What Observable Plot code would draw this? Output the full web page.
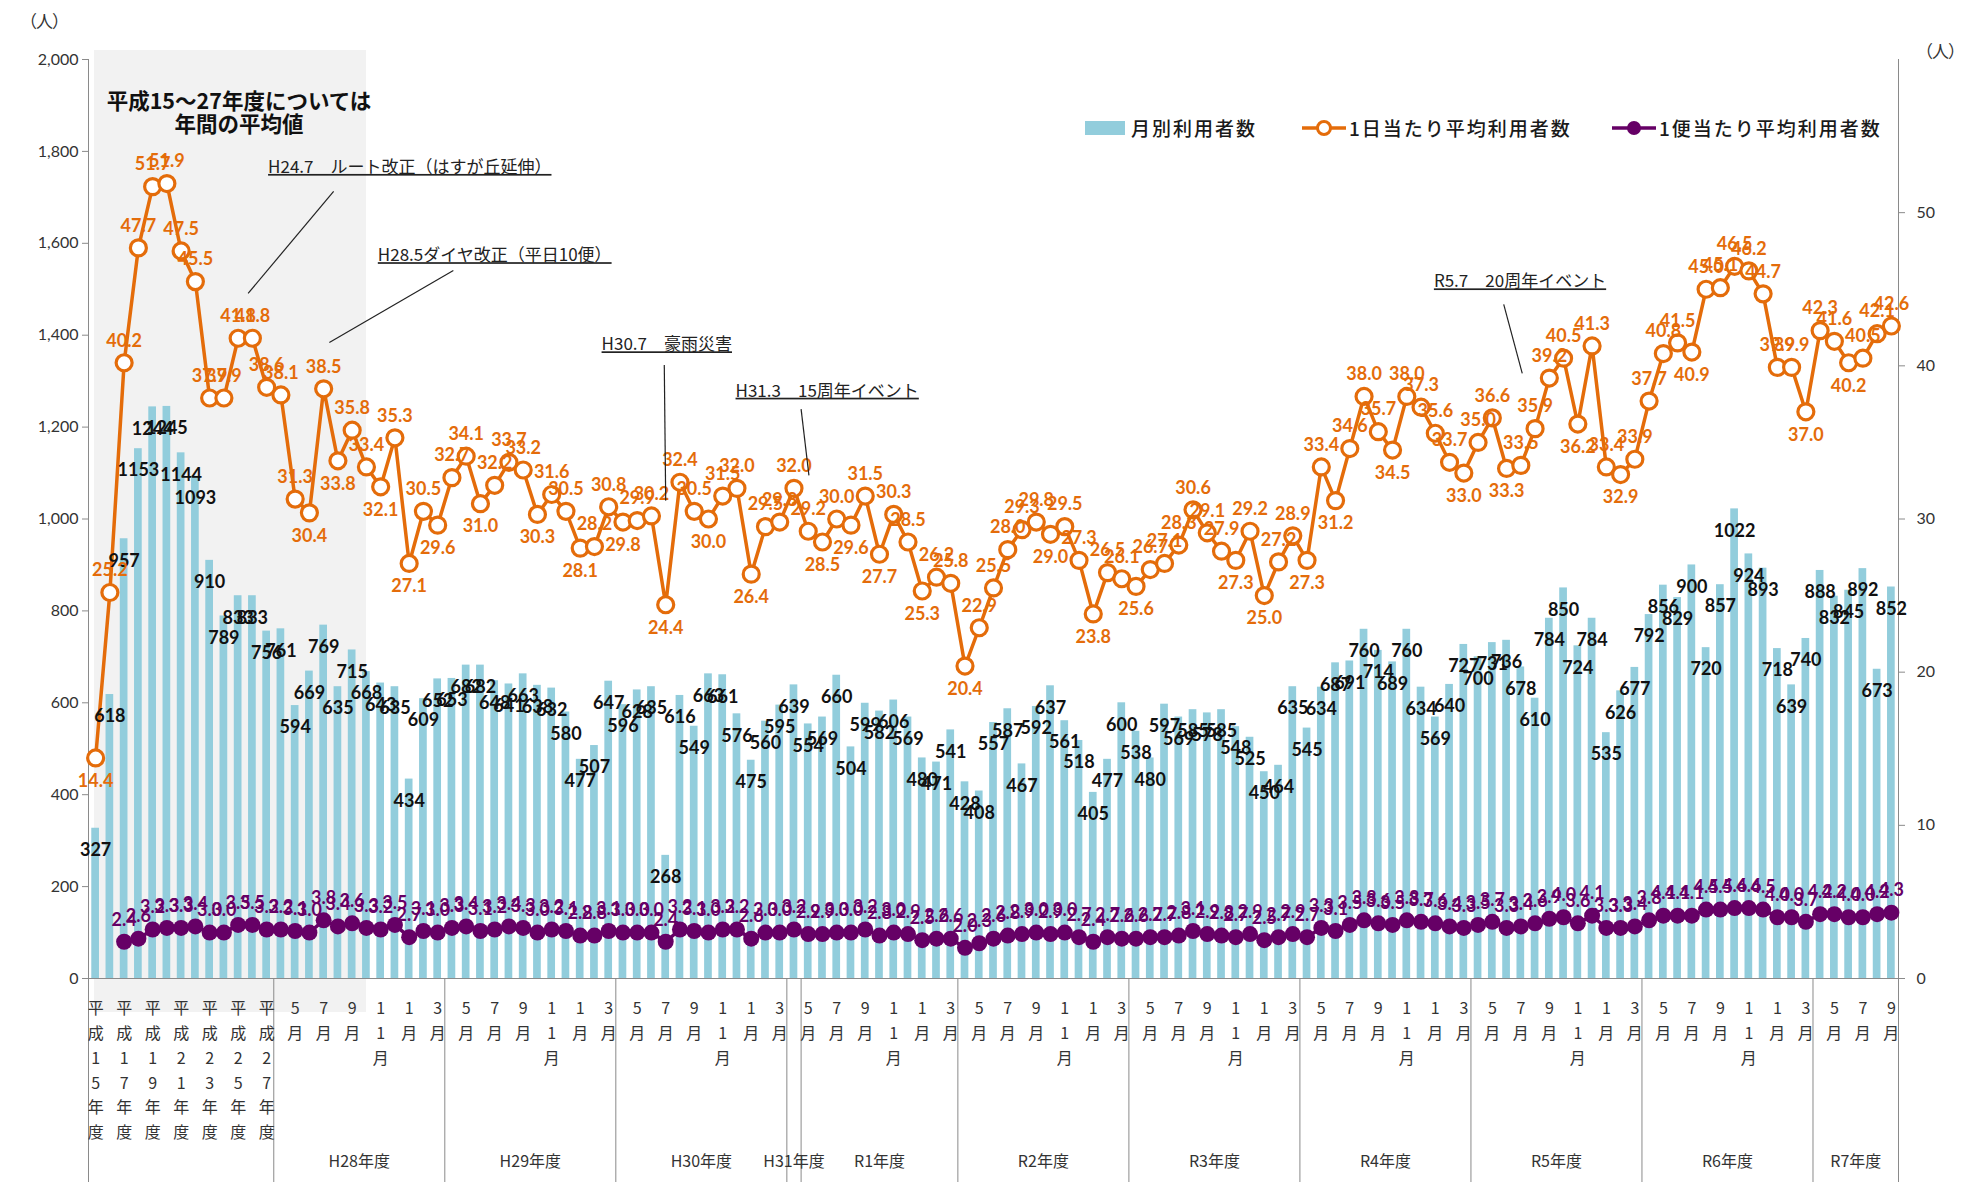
<!DOCTYPE html>
<html><head><meta charset="utf-8">
<script src="https://cdn.jsdelivr.net/npm/d3@7"></script>
<script src="https://cdn.jsdelivr.net/npm/@observablehq/plot@0.6"></script>
<style>
body{margin:0;background:#fff;}
#wrap{position:relative;width:1971px;height:1182px;overflow:hidden;font-family:"Noto Sans CJK JP",sans-serif;color:#222;}
#shade{position:absolute;left:94px;top:50px;width:272px;height:962px;background:#f2f2f2;}
#shadeText{position:absolute;left:94px;top:88px;width:290px;text-align:center;font-weight:700;font-size:21.5px;line-height:23px;color:#111;}
#chart{position:absolute;left:0;top:0;}
.abs{position:absolute;white-space:nowrap;}
.unit{font-size:17px;color:#333;letter-spacing:-1px;}
.lgt{font-size:19px;line-height:24px;color:#1a1a1a;letter-spacing:2px;font-weight:500;}
</style></head>
<body>
<div id="wrap">
  <div id="shade"></div>
  <div id="chart"></div>
  <div id="shadeText">平成15～27年度については<br>年間の平均値</div>
  <div class="abs unit" style="left:20px;top:8px;">（人）</div>
  <div class="abs unit" style="left:1916px;top:38px;">（人）</div>
  <div class="abs" style="left:1085px;top:121px;width:40px;height:14px;background:#92cddc;"></div>
  <div class="abs lgt" style="left:1131px;top:116px;">月別利用者数</div>
  <svg class="abs" style="left:1302px;top:118px;" width="44" height="20"><line x1="0" y1="10" x2="44" y2="10" stroke="#e46c0a" stroke-width="3.5"/><circle cx="22" cy="10" r="6.5" fill="#fff" stroke="#e46c0a" stroke-width="3"/></svg>
  <div class="abs lgt" style="left:1349px;top:116px;">1日当たり平均利用者数</div>
  <svg class="abs" style="left:1612px;top:118px;" width="44" height="20"><line x1="0" y1="10" x2="44" y2="10" stroke="#660066" stroke-width="3.5"/><circle cx="22" cy="10" r="7" fill="#660066"/></svg>
  <div class="abs lgt" style="left:1659px;top:116px;">1便当たり平均利用者数</div>
</div>
<script>
// ---- categories ----
const annualYears = ["平成15年度","平成16年度","平成17年度","平成18年度","平成19年度","平成20年度","平成21年度","平成22年度","平成23年度","平成24年度","平成25年度","平成26年度","平成27年度"];
const fiscalYears = ["H28年度","H29年度","H30年度","H31年度","R1年度","R2年度","R3年度","R4年度","R5年度","R6年度","R7年度"];
const monthsInYear = [12,12,12,1,11,12,12,12,12,12,6];
const monthNames = ["4月","5月","6月","7月","8月","9月","10月","11月","12月","1月","2月","3月"];

// ---- 月別利用者数 (annual averages, then monthly from H28.4) ----
const usersAnnual = [327,618,957,1153,1244,1245,1144,1093,910,789,833,833,756];
const usersMonthly = [
  761,594,669,769,635,715,668,643,635,434,609,652,
  653,682,682,648,641,663,638,632,580,477,507,647,
  596,628,635,268,616,549,663,661,576,475,560,595,
  639,554,569,660,504,599,582,606,569,480,471,541,
  428,408,557,587,467,592,637,561,518,405,477,600,
  538,480,597,569,585,578,585,548,525,450,464,635,
  545,634,687,691,760,714,689,760,634,569,640,727,
  700,731,736,678,610,784,850,724,784,535,626,677,
  792,856,829,900,720,857,1022,924,893,718,639,740,
  888,832,845,892,673,852
];

// ---- 1日当たり平均利用者数 ----
const dailyAnnual = [14.4,25.2,40.2,47.7,51.7,51.9,47.5,45.5,37.9,37.9,41.8,41.8,38.6];
const dailyMonthly = [
  38.1,31.3,30.4,38.5,33.8,35.8,33.4,32.1,35.3,27.1,30.5,29.6,
  32.7,34.1,31.0,32.2,33.7,33.2,30.3,31.6,30.5,28.1,28.2,30.8,
  29.8,29.9,30.2,24.4,32.4,30.5,30.0,31.5,32.0,26.4,29.5,29.8,
  32.0,29.2,28.5,30.0,29.6,31.5,27.7,30.3,28.5,25.3,26.2,25.8,
  20.4,22.9,25.5,28.0,29.3,29.8,29.0,29.5,27.3,23.8,26.5,26.1,
  25.6,26.7,27.1,28.3,30.6,29.1,27.9,27.3,29.2,25.0,27.2,28.9,
  27.3,33.4,31.2,34.6,38.0,35.7,34.5,38.0,37.3,35.6,33.7,33.0,
  35.0,36.6,33.3,33.5,35.9,39.2,40.5,36.2,41.3,33.4,32.9,33.9,
  37.7,40.8,41.5,40.9,45.0,45.1,46.5,46.2,44.7,39.9,39.9,37.0,
  42.3,41.6,40.2,40.5,42.1,42.6
];

// ---- 1便当たり平均利用者数 ----
const perTripAnnual = [null,null,2.4,2.6,3.2,3.3,3.3,3.4,3.0,3.0,3.5,3.5,3.2];
const perTripMonthly = [
  3.2,3.1,3.0,3.8,3.4,3.6,3.3,3.2,3.5,2.7,3.1,3.0,
  3.3,3.4,3.1,3.2,3.4,3.3,3.0,3.2,3.1,2.8,2.8,3.1,
  3.0,3.0,3.0,2.4,3.2,3.1,3.0,3.2,3.2,2.6,3.0,3.0,
  3.2,2.9,2.9,3.0,3.0,3.2,2.8,3.0,2.9,2.5,2.6,2.6,
  2.0,2.3,2.6,2.8,2.9,3.0,2.9,3.0,2.7,2.4,2.7,2.6,
  2.6,2.7,2.7,2.8,3.1,2.9,2.8,2.7,2.9,2.5,2.7,2.9,
  2.7,3.3,3.1,3.5,3.8,3.6,3.5,3.8,3.7,3.6,3.4,3.3,
  3.5,3.7,3.3,3.4,3.6,3.9,4.0,3.6,4.1,3.3,3.3,3.4,
  3.8,4.1,4.1,4.1,4.5,4.5,4.6,4.6,4.5,4.0,4.0,3.7,
  4.2,4.2,4.0,4.0,4.2,4.3
];

// ---- annotations (text, anchor category / value, leader line) ----
const notes = [
  {text: "H24.7　ルート改正（はすが丘延伸）", x: 12.1, y: 1765, lx1: 16.7, ly1: 1713, lx2: 10.7, ly2: 1491},
  {text: "H28.5ダイヤ改正（平日10便）", x: 19.8, y: 1573, lx1: 25.1, ly1: 1541, lx2: 16.4, ly2: 1384},
  {text: "H30.7　豪雨災害", x: 35.5, y: 1379, lx1: 39.9, ly1: 1335, lx2: 40.0, ly2: 1040},
  {text: "H31.3　15周年イベント", x: 44.9, y: 1278, lx1: 49.5, ly1: 1239, lx2: 50.05, ly2: 1095},
  {text: "R5.7　20周年イベント", x: 93.9, y: 1516, lx1: 98.8, ly1: 1467, lx2: 100.1, ly2: 1317}
];

// ---- build table ----
const rows = [];
annualYears.forEach((name, i) => rows.push({i, label: name, users: usersAnnual[i], daily: dailyAnnual[i], trip: perTripAnnual[i]}));
usersMonthly.forEach((u, m) => rows.push({i: annualYears.length + m, label: monthNames[m % 12], users: u, daily: dailyMonthly[m], trip: perTripMonthly[m]}));
const N = rows.length;
const K = 2000 / 60; // right axis (0–60) onto left axis (0–2000)

// local minima of daily series get their label below
rows.forEach((d, j) => {
  const p = j > 0 ? rows[j-1].daily : Infinity, n = j < N-1 ? rows[j+1].daily : Infinity;
  d.below = d.daily < p && d.daily < n;
});

const ticks = rows.filter(d => d.i % 2 === 0).map(d => ({i: d.i, t: [...d.label].join("\n")}));
const groups = [];
const bounds = [-0.5, annualYears.length - 0.5];
let s = annualYears.length;
fiscalYears.forEach((name, k) => {
  const n = monthsInYear[k];
  groups.push({name, c: s + n / 2 - 0.5});
  s += n;
  bounds.push(s - 0.5);
});

const FONT = "Lato, 'Noto Sans CJK JP', sans-serif";
const ORANGE = "#e46c0a", PURPLE = "#660066", BLUE = "#92cddc", AXIS = "#8a8a8a";

const chart = Plot.plot({
  width: 1971, height: 1182,
  marginLeft: 88, marginRight: 73, marginTop: 59, marginBottom: 204,
  style: {background: "transparent", fontFamily: FONT, overflow: "visible"},
  x: {type: "linear", domain: [-0.5, N - 0.5], axis: null},
  y: {domain: [0, 2000], axis: null},
  marks: [
    Plot.rectY(rows, {x1: d => d.i - 0.27, x2: d => d.i + 0.27, y: "users", fill: BLUE}),
    Plot.ruleX([-0.5, N - 0.5], {y1: 0, y2: 2000, stroke: AXIS}),
    Plot.ruleY([0], {stroke: AXIS}),
    Plot.ruleX(bounds, {y1: 0, y2: 0, insetBottom: -204, stroke: AXIS}),
    Plot.axisY(d3.range(0, 2001, 200), {anchor: "left", tickFormat: d3.format(","), tickSize: 6, tickPadding: 4, fontSize: 16, stroke: AXIS, fill: "#333", label: null}),
    Plot.axisY([0, 10, 20, 30, 40, 50].map(v => v * K), {anchor: "right", tickFormat: d => Math.round(d / K), tickSize: 6, tickPadding: 12, fontSize: 16, stroke: AXIS, fill: "#333", label: null}),
    Plot.text(ticks, {x: "i", text: "t", frameAnchor: "bottom", lineAnchor: "top", dy: 18, lineHeight: 1.55, fontSize: 16, fill: "#333", fontFamily: "'Noto Sans CJK JP'"}),
    Plot.text(groups, {x: "c", text: "name", frameAnchor: "bottom", dy: 188, fontSize: 16, fill: "#333", fontFamily: "'Noto Sans CJK JP'"}),
    Plot.line(rows, {x: "i", y: d => d.daily * K, stroke: ORANGE, strokeWidth: 3.5}),
    Plot.dot(rows, {x: "i", y: d => d.daily * K, r: 8, fill: "white", stroke: ORANGE, strokeWidth: 3.2}),
    Plot.line(rows, {x: "i", y: d => d.trip == null ? NaN : d.trip * K, stroke: PURPLE, strokeWidth: 3.5}),
    Plot.dot(rows.filter(d => d.trip != null), {x: "i", y: d => d.trip * K, r: 8, fill: PURPLE}),
    Plot.text(rows, {x: "i", y: "users", text: d => String(d.users), dy: 22, fill: "#111", fontWeight: 700, fontSize: 18}),
    Plot.text(rows.filter(d => !d.below), {x: "i", y: d => d.daily * K, text: d => d.daily.toFixed(1), dy: -22, fill: ORANGE, fontWeight: 700, fontSize: 18}),
    Plot.text(rows.filter(d => d.below), {x: "i", y: d => d.daily * K, text: d => d.daily.toFixed(1), dy: 23, fill: ORANGE, fontWeight: 700, fontSize: 18}),
    Plot.text(rows.filter(d => d.trip != null), {x: "i", y: d => d.trip * K, text: d => d.trip.toFixed(1), dy: -22, fill: PURPLE, fontWeight: 700, fontSize: 18}),
    Plot.link(notes, {x1: "lx1", y1: "ly1", x2: "lx2", y2: "ly2", stroke: "#222", strokeWidth: 1.2}),
    Plot.text(notes, {x: "x", y: "y", text: "text", textAnchor: "start", fontSize: 17, fill: "#222", fontFamily: "'Noto Sans CJK JP'"})
  ]
});
document.getElementById("chart").appendChild(chart);
const noteSet = new Set(notes.map(n => n.text));
d3.select(chart).selectAll("text").filter(function() { return noteSet.has(this.textContent); }).attr("text-decoration", "underline");
</script>
</body></html>
